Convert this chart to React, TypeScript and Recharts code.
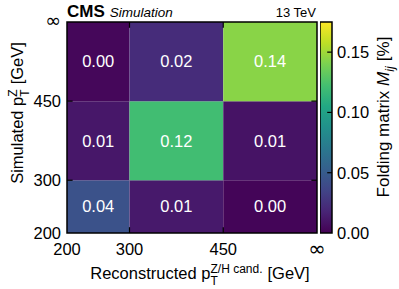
import { ComposedChart, XAxis, YAxis, ReferenceArea, ReferenceLine, Scatter } from 'recharts';

const FONT = '"Liberation Sans", Arial, Helvetica, sans-serif';

// bin edges (600 stands for the overflow bin drawn as ∞)
const xEdges = [200, 300, 450, 600];
const yEdges = [200, 300, 450, 600];
const edgeLabels: Record<number, string> = { 200: '200', 300: '300', 450: '450', 600: '∞' };

// folding matrix, one row per simulated bin (bottom to top)
const row200 = [0.044, 0.012, 0.002];
const row300 = [0.011, 0.121, 0.009];
const row450 = [0.003, 0.022, 0.144];
const rows = [row200, row300, row450];

const cbarMax = 0.175;
const cbarTicks = [0, 0.05, 0.1, 0.15];

const viridisStops = [
  '#440154', '#482475', '#414487', '#355f8d', '#2a788e', '#21918c',
  '#22a884', '#44bf70', '#7ad151', '#bddf26', '#fde725',
];

function hexToRgb(h: string) {
  const n = parseInt(h.slice(1), 16);
  return [(n >> 16) & 255, (n >> 8) & 255, n & 255];
}

function viridis(t: number) {
  const c = Math.max(0, Math.min(1, t)) * (viridisStops.length - 1);
  const i = Math.min(Math.floor(c), viridisStops.length - 2);
  const f = c - i;
  const a = hexToRgb(viridisStops[i]);
  const b = hexToRgb(viridisStops[i + 1]);
  const m = a.map((v, k) => Math.round(v + (b[k] - v) * f));
  return `rgb(${m[0]},${m[1]},${m[2]})`;
}

const tickStyle = { fontSize: 16.5, fill: '#000', fontFamily: FONT };

const cells = rows.flatMap((row, j) =>
  row.map((v, i) => ({
    x1: xEdges[i],
    x2: xEdges[i + 1],
    y1: yEdges[j],
    y2: yEdges[j + 1],
    x: (xEdges[i] + xEdges[i + 1]) / 2,
    y: (yEdges[j] + yEdges[j + 1]) / 2,
    v,
  }))
);

const noShape = () => <g />;

function XTick({ x, y, payload }: any) {
  const label = edgeLabels[payload.value];
  if (label === '∞') {
    return (
      <text x={x} y={y + 13} textAnchor="middle" fontSize={21} fontFamily='"DejaVu Sans", sans-serif' fill="#000">
        {label}
      </text>
    );
  }
  return (
    <text x={x} y={y} dy="0.71em" textAnchor="middle" fontSize={16.5} fontFamily={FONT} fill="#000">
      {label}
    </text>
  );
}

function YTick({ x, y, payload }: any) {
  const label = edgeLabels[payload.value];
  if (label === '∞') {
    return (
      <text x={x} y={y + 5} textAnchor="end" fontSize={19} fontFamily='"DejaVu Sans", sans-serif' fill="#000">
        {label}
      </text>
    );
  }
  return (
    <text x={x} y={y} dy="0.355em" textAnchor="end" fontSize={16.5} fontFamily={FONT} fill="#000">
      {label}
    </text>
  );
}

function HeatMap() {
  const inner = [300, 450];
  return (
    <ComposedChart width={399} height={289} data={cells} margin={{ top: 22, right: 82, bottom: 0, left: 0 }}>
      <XAxis
        type="number"
        dataKey="x"
        domain={[200, 600]}
        ticks={xEdges}
        axisLine={false}
        tickLine={false}
        tickSize={0}
        tickMargin={10}
        height={56}
        tick={<XTick />}
        interval={0}
        allowDataOverflow
      />
      <YAxis
        type="number"
        dataKey="y"
        domain={[200, 600]}
        ticks={yEdges}
        axisLine={false}
        tickLine={false}
        tickSize={0}
        tickMargin={6}
        width={67}
        tick={<YTick />}
        interval={0}
        allowDataOverflow
      />
      {cells.map((c, k) => (
        <ReferenceArea
          key={k}
          x1={c.x1}
          x2={c.x2}
          y1={c.y1}
          y2={c.y2}
          fill={viridis(c.v / cbarMax)}
          fillOpacity={1}
          stroke="none"
          label={{ value: c.v.toFixed(2), position: 'center', fill: '#fff', fontSize: 16.5, fontFamily: FONT }}
        />
      ))}
      {inner.map((e) => (
        <ReferenceLine key={'b' + e} segment={[{ x: e, y: 200 }, { x: e, y: 211 }]} stroke="#000" strokeWidth={1.2} />
      ))}
      {inner.map((e) => (
        <ReferenceLine key={'t' + e} segment={[{ x: e, y: 600 }, { x: e, y: 589 }]} stroke="#000" strokeWidth={1.2} />
      ))}
      {inner.map((e) => (
        <ReferenceLine key={'l' + e} segment={[{ x: 200, y: e }, { x: 209, y: e }]} stroke="#000" strokeWidth={1.2} />
      ))}
      {inner.map((e) => (
        <ReferenceLine key={'r' + e} segment={[{ x: 600, y: e }, { x: 591, y: e }]} stroke="#000" strokeWidth={1.2} />
      ))}
      <ReferenceArea x1={200} x2={600} y1={200} y2={600} fill="none" stroke="#000" strokeWidth={1.5} />
      <Scatter dataKey="y" shape={noShape} isAnimationActive={false} />
    </ComposedChart>
  );
}

const cbarData = [
  { x: 0, y: 0 },
  { x: 1, y: cbarMax },
];

function ColorBar() {
  return (
    <ComposedChart width={79} height={289} data={cbarData} margin={{ top: 22, right: 0, bottom: 56, left: 0 }}>
      <defs>
        <linearGradient id="viridisGrad" x1="0" y1="1" x2="0" y2="0">
          {viridisStops.map((c, i) => (
            <stop key={i} offset={`${(i / (viridisStops.length - 1)) * 100}%`} stopColor={c} />
          ))}
        </linearGradient>
      </defs>
      <XAxis type="number" dataKey="x" domain={[0, 1]} hide />
      <YAxis
        type="number"
        dataKey="y"
        orientation="right"
        domain={[0, cbarMax]}
        ticks={cbarTicks}
        tickFormatter={(v) => v.toFixed(2)}
        axisLine={false}
        tickLine={false}
        tickSize={0}
        tickMargin={5}
        width={67}
        tick={tickStyle}
        interval={0}
      />
      <ReferenceArea x1={0} x2={1} y1={0} y2={cbarMax} fill="url(#viridisGrad)" fillOpacity={1} stroke="none" />
      {cbarTicks.slice(1).map((t) => (
        <ReferenceLine key={t} segment={[{ x: 0.6, y: t }, { x: 1, y: t }]} stroke="#000" strokeWidth={1.2} />
      ))}
      <ReferenceArea x1={0} x2={1} y1={0} y2={cbarMax} fill="none" stroke="#000" strokeWidth={1.5} />
      <Scatter dataKey="y" shape={noShape} isAnimationActive={false} />
    </ComposedChart>
  );
}

export default function App() {
  return (
    <div style={{ position: 'absolute', left: 0, top: 0, width: 399, height: 289, background: '#fff', fontFamily: FONT }}>
      <div style={{ position: 'absolute', left: 0, top: 0 }}>
        <HeatMap />
      </div>
      <div style={{ position: 'absolute', left: 320, top: 0 }}>
        <ColorBar />
      </div>
      <svg width={399} height={289} style={{ position: 'absolute', left: 0, top: 0, pointerEvents: 'none' }} fontFamily={FONT}>
        <text x={67} y={17} fill="#000">
          <tspan fontSize={17} fontWeight="bold">CMS</tspan>
          <tspan fontSize={13.5} fontStyle="italic" dx={5}>Simulation</tspan>
        </text>
        <text x={316} y={17} fontSize={13} textAnchor="end" fill="#000">13 TeV</text>
        <text x={200} y={279} fontSize={16.5} textAnchor="middle" fill="#000">
          Reconstructed p
          <tspan fontSize={12} dy={6}>T</tspan>
          <tspan fontSize={12} dx={-7.3} dy={-12}>Z/H cand.</tspan>
          <tspan dx={5} dy={6}>[GeV]</tspan>
        </text>
        <text transform="translate(23,113) rotate(-90)" fontSize={16.5} textAnchor="middle" fill="#000">
          Simulated p
          <tspan fontSize={12} dy={6}>T</tspan>
          <tspan fontSize={12} dx={-7.3} dy={-12}>Z</tspan>
          <tspan dx={5} dy={6}>[GeV]</tspan>
        </text>
        <text transform="translate(389,117) rotate(-90)" fontSize={17} textAnchor="middle" fill="#000">
          Folding matrix <tspan fontStyle="italic">M</tspan>
          <tspan fontSize={12.5} fontStyle="italic" dy={5}>ij</tspan>
          <tspan dx={5} dy={-5}>[%]</tspan>
        </text>
      </svg>
    </div>
  );
}
